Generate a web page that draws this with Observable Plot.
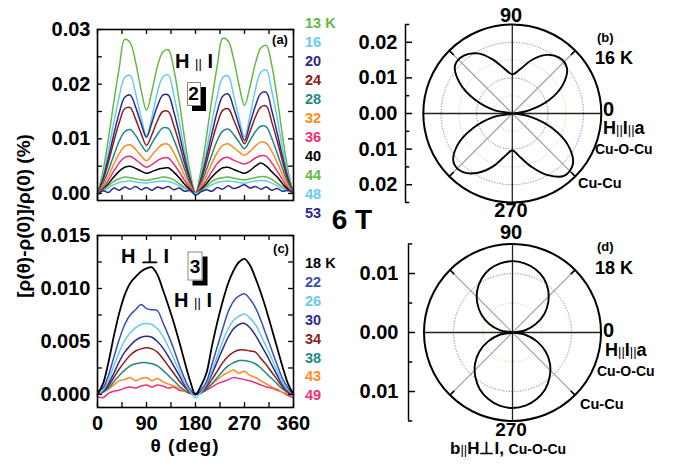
<!DOCTYPE html>
<html><head><meta charset="utf-8">
<script src="https://cdn.jsdelivr.net/npm/d3@7"></script>
<script src="https://cdn.jsdelivr.net/npm/@observablehq/plot@0.6"></script>
<style>
body{margin:0;background:#fff;}
#chart{position:relative;width:685px;height:466px;background:#fff;font-family:"Liberation Sans",Arial,sans-serif;overflow:hidden;}
#chart svg{position:absolute;overflow:visible;}
.t{position:absolute;white-space:nowrap;line-height:1;font-weight:bold;color:#000;}
</style></head><body><div id="chart"></div>
<script>
// ---------------- data ----------------
const theta = [0,10,20,30,40,50,60,70,80,90,100,110,120,130,140,150,160,170,180,190,200,210,220,230,240,250,260,270,280,290,300,310,320,330,340,350,360];

// panel (a): H || I, 6 T
const tempsA = ["13 K","16","20","24","28","32","36","40","44","48","53"];
const a13 = [0,.0040,.0100,.0168,.0230,.0282,.0276,.0240,.0190,.0152,.0188,.0232,.0259,.0263,.0228,.0170,.0100,.0040,.0002,.0042,.0103,.0172,.0234,.0284,.0279,.0246,.0198,.0161,.0195,.0238,.0266,.0271,.0235,.0175,.0104,.0042,0];
const a16 = [0,.0033,.0078,.0130,.0178,.0212,.0216,.0183,.0140,.0106,.0140,.0185,.0213,.0217,.0180,.0132,.0078,.0032,0,.0032,.0079,.0131,.0178,.0212,.0215,.0180,.0138,.0103,.0142,.0190,.0222,.0226,.0188,.0138,.0082,.0033,0];
const a20 = [0,.0027,.0065,.0108,.0148,.0176,.0180,.0158,.0128,.0103,.0130,.0160,.0180,.0180,.0150,.0110,.0066,.0027,0,.0027,.0066,.0109,.0150,.0178,.0182,.0157,.0125,.0097,.0128,.0160,.0183,.0185,.0152,.0111,.0067,.0028,0];
const a24 = [0,.0024,.0057,.0095,.0130,.0155,.0157,.0136,.0110,.0088,.0108,.0133,.0150,.0150,.0125,.0092,.0055,.0023,0,.0023,.0056,.0094,.0128,.0152,.0155,.0135,.0111,.0091,.0113,.0140,.0158,.0160,.0131,.0096,.0058,.0024,0];
const a28 = [0,.0018,.0042,.0070,.0096,.0113,.0117,.0106,.0090,.0077,.0092,.0108,.0120,.0119,.0099,.0073,.0044,.0018,0,.0018,.0043,.0071,.0097,.0114,.0118,.0108,.0094,.0082,.0097,.0113,.0123,.0122,.0101,.0074,.0045,.0019,0];
const a32 = [0,.0013,.0032,.0054,.0073,.0086,.0089,.0081,.0069,.0060,.0070,.0082,.0090,.0090,.0075,.0055,.0033,.0014,0,.0014,.0033,.0055,.0075,.0088,.0091,.0084,.0076,.0070,.0077,.0087,.0094,.0092,.0077,.0057,.0034,.0014,0];
const a36 = [0,.0010,.0024,.0041,.0056,.0066,.0068,.0062,.0054,.0048,.0053,.0060,.0065,.0065,.0054,.0040,.0024,.0010,0,.0010,.0024,.0040,.0055,.0064,.0066,.0061,.0057,.0054,.0058,.0065,.0069,.0068,.0056,.0041,.0025,.0010,0];
const a40 = [0,.0007,.0018,.0030,.0041,.0048,.0050,.0046,.0041,.0037,.0040,.0044,.0046,.0047,.0039,.0029,.0017,.0007,0,.0007,.0018,.0030,.0040,.0047,.0048,.0044,.0040,.0037,.0042,.0050,.0056,.0050,.0040,.0030,.0018,.0007,0];
const a44 = [0,.0006,.0014,.0022,.0027,.0030,.0029,.0027,.0025,.0024,.0026,.0028,.0030,.0029,.0025,.0018,.0011,.0005,0,.0005,.0013,.0022,.0027,.0029,.0030,.0028,.0026,.0025,.0027,.0029,.0031,.0030,.0026,.0019,.0012,.0005,0];
const a48 = [0,.0004,.0010,.0016,.0020,.0022,.0023,.0021,.0020,.0019,.0021,.0022,.0023,.0022,.0019,.0014,.0009,.0004,0,.0004,.0010,.0016,.0020,.0022,.0023,.0022,.0020,.0019,.0021,.0023,.0024,.0023,.0019,.0014,.0009,.0004,0];
const a53 = [-.0002,.0005,.0002,.0010,.0006,.0012,.0008,.0013,.0007,.0011,.0006,.0012,.0009,.0013,.0007,.0010,.0004,.0006,-.0003,.0003,.0007,.0004,.0011,.0008,.0014,.0009,.0012,.0016,.0010,.0013,.0008,.0012,.0006,.0009,.0004,.0006,.0001];

// panel (c): H ⊥ I, 6 T
const tempsC = ["18 K","22","26","30","34","38","43","49"];
const c18 = [0,.0010,.0030,.0055,.0077,.0094,.0105,.0111,.0116,.0119,.0120,.0113,.0099,.0084,.0068,.0050,.0031,.0013,0,.0008,.0020,.0045,.0068,.0088,.0105,.0117,.0125,.0128,.0122,.0110,.0096,.0080,.0062,.0044,.0026,.0010,0];
const c22 = [.0003,.0006,.0018,.0035,.0052,.0066,.0075,.0080,.0085,.0081,.0080,.0079,.0068,.0056,.0043,.0028,.0015,.0005,0,.0004,.0012,.0028,.0045,.0062,.0078,.0088,.0093,.0095,.0090,.0082,.0070,.0056,.0042,.0028,.0015,.0006,0];
const c26 = [0,.0004,.0013,.0027,.0040,.0051,.0058,.0063,.0066,.0067,.0066,.0062,.0055,.0045,.0034,.0022,.0011,.0003,-.0003,.0002,.0010,.0022,.0036,.0050,.0062,.0070,.0074,.0076,.0072,.0066,.0056,.0045,.0034,.0022,.0011,.0004,0];
const c30 = [0,.0003,.0010,.0020,.0031,.0040,.0046,.0051,.0054,.0055,.0054,.0050,.0044,.0036,.0027,.0018,.0009,.0003,0,.0003,.0009,.0019,.0031,.0043,.0054,.0062,.0066,.0067,.0063,.0056,.0047,.0038,.0028,.0018,.0009,.0003,0];
const c34 = [0,.0003,.0008,.0016,.0024,.0031,.0037,.0041,.0043,.0044,.0043,.0040,.0034,.0027,.0020,.0013,.0007,.0002,0,.0002,.0007,.0014,.0022,.0030,.0036,.0040,.0042,.0042,.0041,.0040,.0034,.0028,.0021,.0014,.0007,.0002,0];
const c38 = [0,.0002,.0006,.0012,.0018,.0023,.0027,.0029,.0030,.0030,.0029,.0027,.0023,.0018,.0013,.0008,.0004,.0001,0,.0001,.0005,.0010,.0016,.0022,.0027,.0030,.0032,.0032,.0031,.0029,.0025,.0020,.0015,.0010,.0005,.0002,0];
const c43 = [0,.0002,.0005,.0009,.0013,.0014,.0016,.0013,.0015,.0016,.0013,.0015,.0012,.0010,.0008,.0006,.0003,.0001,0,.0003,.0006,.0010,.0014,.0018,.0021,.0023,.0020,.0022,.0018,.0016,.0013,.0010,.0007,.0005,.0002,.0001,-.0002];
const c49 = [-.0002,-.0003,.0001,.0003,.0004,.0006,.0007,.0006,.0008,.0009,.0007,.0009,.0008,.0006,.0007,.0004,.0003,.0001,.0001,.0002,.0004,.0007,.0010,.0012,.0014,.0016,.0015,.0014,.0013,.0011,.0009,.0007,.0006,.0004,.0002,-.0001,-.0003];

// panel (b): polar, 16 K
const b16 = [0,.0045,.0110,.0165,.0200,.0205,.0190,.0160,.0126,.0110,.0128,.0162,.0195,.0212,.0210,.0170,.0110,.0050,0,.0050,.0115,.0178,.0215,.0215,.0192,.0158,.0122,.0104,.0124,.0160,.0200,.0228,.0222,.0182,.0118,.0050,0];
// panel (d): polar, 18 K
const d18 = [0,.0022,.0042,.0062,.0079,.0094,.0106,.0114,.0119,.0121,.0119,.0114,.0105,.0093,.0078,.0061,.0042,.0021,0,.0022,.0044,.0065,.0083,.0098,.0111,.0120,.0126,.0128,.0126,.0120,.0111,.0098,.0083,.0065,.0044,.0022,0];

// ticks
const aYTickLabels = [0, 0.01, 0.02, 0.03];
const aYTicks = [0, 0.005, 0.01, 0.015, 0.02, 0.025, 0.03];
const cYTickLabels = [0, 0.005, 0.010, 0.015];
const cYTicks = [0, 0.0025, 0.005, 0.0075, 0.01, 0.0125, 0.015];
const xTickLabels = [0, 90, 180, 270, 360];
const xTicks = [0, 45, 90, 135, 180, 225, 270, 315, 360];
const bScaleLabels = [-0.02, -0.01, 0, 0.01, 0.02];
const bScaleMinor = [-0.025, -0.015, -0.005, 0.005, 0.015, 0.025];
const bGridBlue = [0.01, 0.02], bGridGreen = [0.005, 0.015];
const dScaleLabels = [-0.01, 0, 0.01];
const dScaleMinor = [-0.015, -0.005, 0.005, 0.015];
const dGridBlue = [0.01], dGridGreen = [0.005];
const axisAngles = [0, 90], diagAngles = [45, 135], rimTickAngles = [45, 135, 225, 315];

// ---------------- style ----------------
const GREEN="#63b946", CYAN="#68cbea", NAVY="#2c2a88", MAROON="#8c1c1c", TEAL="#1f8882", ORANGE="#ff8a20", PINK="#ee2e7a", BLACK="#000", BLUE="#3b4db3";
const colorsA = [GREEN,CYAN,NAVY,MAROON,TEAL,ORANGE,PINK,BLACK,GREEN,CYAN,NAVY];
const colorsC = [BLACK,BLUE,CYAN,NAVY,MAROON,TEAL,ORANGE,PINK];
const valuesA = [a13,a16,a20,a24,a28,a32,a36,a40,a44,a48,a53];
const valuesC = [c18,c22,c26,c30,c34,c38,c43,c49];
const FONT = '"Liberation Sans", Arial, sans-serif';
const chart = document.getElementById("chart");
const baseStyle = {fontFamily: FONT, fontSize: "20px", fontWeight: "bold", color: "#000", background: "transparent", overflow: "visible"};

function place(svg, left, top){ svg.style.left = left+"px"; svg.style.top = top+"px"; chart.appendChild(svg); }
function txt(html, x, y, o={}){
  const d = document.createElement("div"); d.className="t"; d.innerHTML = html;
  d.style.left = x+"px"; d.style.top = y+"px";
  d.style.fontSize = (o.size||14)+"px";
  if (o.color) d.style.color = o.color;
  if (o.weight) d.style.fontWeight = o.weight;
  if (o.ls) d.style.letterSpacing = o.ls+"px";
  d.style.transform = o.rotate ? "translate(-50%,-50%) rotate(-90deg)" : (o.anchor==="start" ? "translate(0,-50%)" : "translate(-50%,-50%)");
  chart.appendChild(d); return d;
}
const rows = vals => theta.map((t,i)=>({t, v: vals[i]}));

// ---------------- panel (a) ----------------
const aY0 = -0.00128, aY1 = 0.0300;
place(Plot.plot({
  width: 300, height: 205, marginLeft: 97, marginRight: 7, marginTop: 29, marginBottom: 5,
  x: {domain: [0, 360], axis: null},
  y: {domain: [aY0, aY1], axis: null},
  style: baseStyle,
  marks: [
    ...valuesA.map((vals,k)=>Plot.line(rows(vals), {x:"t", y:"v", stroke: colorsA[k], strokeWidth: 1.5, curve: "catmull-rom"})),
    Plot.frame({stroke:"#000", strokeWidth:1.6}),
    Plot.ruleY(aYTicks, {y: d=>d, x1: 0, x2: 9, stroke:"#000", strokeWidth:1.3}),
    Plot.ruleY(aYTicks, {y: d=>d, x1: 351, x2: 360, stroke:"#000", strokeWidth:1.3}),
    Plot.ruleX(xTicks, {x: d=>d, y1: aY0, y2: aY0+0.0009, stroke:"#000", strokeWidth:1.3}),
    Plot.ruleX(xTicks, {x: d=>d, y1: aY1-0.0009, y2: aY1, stroke:"#000", strokeWidth:1.3}),
    Plot.axisY(aYTickLabels, {anchor:"left", tickSize: 0, tickPadding: 7, tickFormat: d3.format(".2f"), label: null})
  ]
}), 0, 0);

// ---------------- panel (c) ----------------
const cY0 = -0.00123, cY1 = 0.0150;
place(Plot.plot({
  width: 300, height: 266, marginLeft: 97, marginRight: 7, marginTop: 35, marginBottom: 59,
  x: {domain: [0, 360], axis: null},
  y: {domain: [cY0, cY1], axis: null},
  style: baseStyle,
  marks: [
    ...valuesC.map((vals,k)=>Plot.line(rows(vals), {x:"t", y:"v", stroke: colorsC[k], strokeWidth: k===0 ? 1.8 : 1.5, curve: "catmull-rom"})).reverse(),
    Plot.frame({stroke:"#000", strokeWidth:1.6}),
    Plot.ruleY(cYTicks, {y: d=>d, x1: 0, x2: 9, stroke:"#000", strokeWidth:1.3}),
    Plot.ruleY(cYTicks, {y: d=>d, x1: 351, x2: 360, stroke:"#000", strokeWidth:1.3}),
    Plot.ruleX(xTicks, {x: d=>d, y1: cY0, y2: cY0+0.00047, stroke:"#000", strokeWidth:1.3}),
    Plot.ruleX(xTicks, {x: d=>d, y1: cY1-0.00047, y2: cY1, stroke:"#000", strokeWidth:1.3}),
    Plot.axisY(cYTickLabels, {anchor:"left", tickSize: 0, tickPadding: 7, tickFormat: d3.format(".3f"), label: null}),
    Plot.axisX(xTickLabels, {anchor:"bottom", tickSize: 0, tickPadding: 8, label: null})
  ]
}), 0, 200);

// ---------------- polar panels ----------------
const rad = a => a*Math.PI/180;
function polarPlot(o){
  const R = o.R, X0 = o.xDomain[0];
  const curve = theta.map((t,i)=>({x: o.values[i]*Math.cos(rad(t)), y: o.values[i]*Math.sin(rad(t))}));
  return Plot.plot({
    width: o.width, height: o.height, marginLeft: o.ml, marginRight: o.mr, marginTop: o.mt, marginBottom: o.mb,
    x: {domain: o.xDomain, axis: null},
    y: {domain: [-R, R], axis: null},
    r: {type: "linear", domain: [0, R], range: [0, o.Rpx]},
    style: baseStyle,
    marks: [
      Plot.dot(o.green, {x: ()=>0, y: ()=>0, r: d=>d, fill:"none", stroke:"#b9d98f", strokeWidth:1, strokeDasharray:"1.2,1.6"}),
      Plot.dot(o.blue, {x: ()=>0, y: ()=>0, r: d=>d, fill:"none", stroke:"#6f6fe6", strokeWidth:1, strokeDasharray:"1.2,1.6"}),
      Plot.link(diagAngles, {x1: a=>-R*Math.cos(rad(a)), y1: a=>-R*Math.sin(rad(a)), x2: a=>R*Math.cos(rad(a)), y2: a=>R*Math.sin(rad(a)), stroke:"#9c9c9c", strokeWidth:1.2}),
      Plot.link(axisAngles, {x1: a=>-R*Math.cos(rad(a)), y1: a=>-R*Math.sin(rad(a)), x2: a=>R*Math.cos(rad(a)), y2: a=>R*Math.sin(rad(a)), stroke:"#222", strokeWidth:1.3}),
      Plot.link(rimTickAngles, {x1: a=>0.93*R*Math.cos(rad(a)), y1: a=>0.93*R*Math.sin(rad(a)), x2: a=>R*Math.cos(rad(a)), y2: a=>R*Math.sin(rad(a)), stroke:"#000", strokeWidth:1.6}),
      Plot.dot([R], {x: ()=>0, y: ()=>0, r: d=>d, fill:"none", stroke:"#000", strokeWidth:2}),
      Plot.line(curve, {x:"x", y:"y", stroke:"#000", strokeWidth:1.9, curve: "catmull-rom"}),
      // scale bar
      Plot.ruleX([X0], {y1: -R, y2: R, stroke:"#000", strokeWidth:1.5}),
      Plot.ruleY(o.labels, {y: d=>d, x1: X0, x2: X0 + o.major, stroke:"#000", strokeWidth:1.5}),
      Plot.ruleY(o.minor, {y: d=>d, x1: X0, x2: X0 + o.major*0.6, stroke:"#000", strokeWidth:1.5}),
      Plot.axisY(o.labels, {anchor:"left", tickSize: 0, tickPadding: o.pad, tickFormat: d=>Math.abs(d).toFixed(2), label: null})
    ]
  });
}
place(polarPlot({values: b16, R: 0.025, Rpx: 89, xDomain: [-0.030, 0.030], width: 345, height: 230, ml: 65, mr: 66.4, mt: 24, mb: 28,
  green: bGridGreen, blue: bGridBlue, labels: bScaleLabels, minor: bScaleMinor, major: 0.002, pad: 8}), 340, 0);
place(polarPlot({values: d18, R: 0.015, Rpx: 88.5, xDomain: [-0.01763, 0.01763], width: 345, height: 236, ml: 68, mr: 69, mt: 13.5, mb: 45.5,
  green: dGridGreen, blue: dGridBlue, labels: dScaleLabels, minor: dScaleMinor, major: 0.0012, pad: 10}), 340, 230);

// ---------------- text ----------------
tempsA.forEach((s,i)=>txt(s, 305, 23 + i*19, {anchor:"start", size:14.5, color: colorsA[i]}));
tempsC.forEach((s,i)=>txt(s, 305, 263 + i*18.9, {anchor:"start", size:14.5, color: colorsC[i]}));
txt("[ρ(θ)-ρ(0)]/ρ(0) (%)", 23, 216, {size:19, rotate:true});
txt("θ (deg)", 185, 445, {size:19, ls:1});
txt("6 T", 352, 220, {size:28});
txt("(a)", 280, 39, {size:13});
txt("(c)", 281, 248, {size:13});
const par = s => `<span style="font-size:13px;font-weight:normal">${s}</span>`;
txt(`H ${par("||")} I`, 194, 61, {size:20});
txt(`H ⊥ I`, 145, 256, {size:20});
txt(`H ${par("||")} I`, 193, 300, {size:20});
function boxed(label, x, y, w, h){
  const d = txt(label, x, y, {size:19});
  d.style.width = w+"px"; d.style.height = h+"px"; d.style.lineHeight = h+"px";
  d.style.textAlign="center"; d.style.background="#fff"; d.style.border="1px solid #888";
  d.style.boxShadow="5px 5px 0 #000";
}
boxed("2", 193.5, 93.5, 12, 22);
boxed("3", 195, 266, 13, 27);
// polar (b)
txt("90", 511, 15, {size:20});
txt("270", 511, 210, {size:20});
txt("0", 603, 109, {anchor:"start", size:20});
txt(`H${par("||")}I${par("||")}a`, 603, 128, {anchor:"start", size:18});
txt("Cu-O-Cu", 595, 149, {anchor:"start", size:14});
txt("Cu-Cu", 578, 183, {anchor:"start", size:14.5});
txt("(b)", 597, 37, {anchor:"start", size:13});
txt("16 K", 595, 58, {anchor:"start", size:18});
// polar (d)
txt("90", 511, 232, {size:20});
txt("270", 511, 429, {size:19});
txt(`b${par("||")}H⊥I, <span style="font-size:14px">Cu-O-Cu</span>`, 450, 448, {anchor:"start", size:17});
txt("0", 603, 330, {anchor:"start", size:20});
txt(`H${par("||")}I${par("||")}a`, 605, 350, {anchor:"start", size:18});
txt("Cu-O-Cu", 597, 371, {anchor:"start", size:14});
txt("Cu-Cu", 580, 404, {anchor:"start", size:14.5});
txt("(d)", 597, 246, {anchor:"start", size:13});
txt("18 K", 595, 268, {anchor:"start", size:18});
</script></body></html>
